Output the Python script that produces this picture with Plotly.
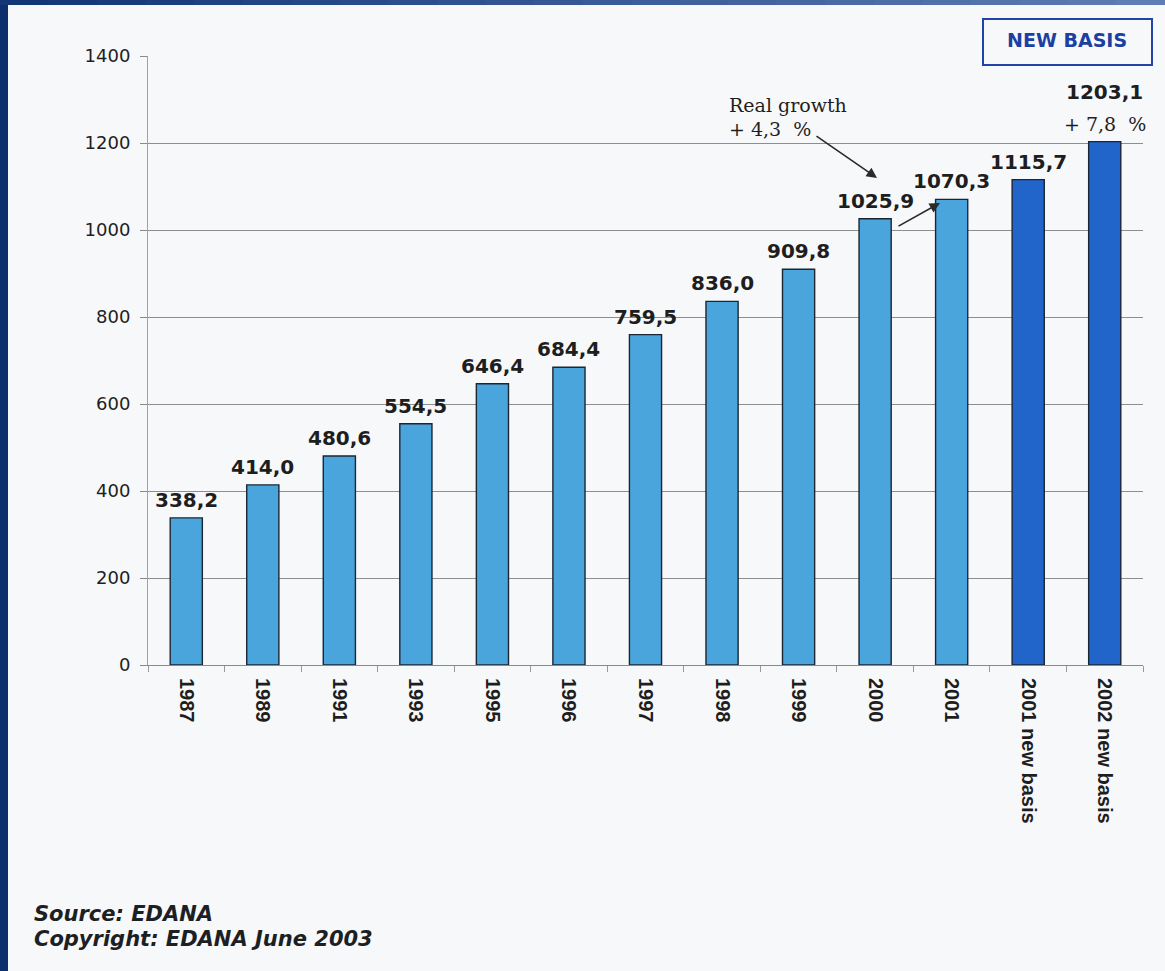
import plotly.graph_objects as go

# Market volume by year (values as printed on the bars)
years = ["1987", "1989", "1991", "1993", "1995", "1996", "1997", "1998",
         "1999", "2000", "2001", "2001 new basis", "2002 new basis"]
volumes = [338.2, 414.0, 480.6, 554.5, 646.4, 684.4, 759.5, 836.0,
           909.8, 1025.9, 1070.3, 1115.7, 1203.1]
new_basis = [False] * 11 + [True, True]
y_ticks = [0, 200, 400, 600, 800, 1000, 1200, 1400]

LIGHT = "#4aa5dc"
DARK = "#2164ca"
BG = "#f7f8fa"

# plot-area geometry in pixels (page is 1165 x 971)
W, H = 1165, 971
L, R, T, B = 148, 1143, 56, 665


def px(x):
    return (x - L) / (R - L)


def py(y):
    return (B - y) / (B - T)


def fmt(v):
    return f"{v:.1f}".replace(".", ",")


fig = go.Figure()
fig.add_trace(go.Bar(
    x=years, y=volumes,
    marker=dict(color=[DARK if nb else LIGHT for nb in new_basis],
                line=dict(color="#1b2633", width=1.4)),
    width=0.42, hoverinfo="skip",
))

annotations = []
last = len(volumes) - 1
for i, v in enumerate(volumes):
    # category axes take the bar's index as position
    annotations.append(dict(
        x=i, y=v, xref="x", yref="y", text=f"<b>{fmt(v)}</b>",
        showarrow=False, xanchor="center", yanchor="bottom",
        yshift=36 if i == last else 4,
        font=dict(family="DejaVu Sans", size=20, color="#1e1e1e"),
    ))


def note(x, y, text, font, xanchor="left"):
    return dict(x=px(x), y=py(y), xref="paper", yref="paper",
                xanchor=xanchor, yanchor="middle", text=text,
                showarrow=False, font=font)


serif = dict(family="DejaVu Serif", size=19, color="#1e1e1e")
italic = dict(family="DejaVu Sans", size=21, color="#1c1f24")
annotations += [
    note(727, 105, "Real growth", serif),
    note(727, 129, "+ 4,3  %", serif),
    dict(x=last, y=volumes[-1], xref="x", yref="y", xanchor="center",
         yanchor="bottom", yshift=5, text="+ 7,8  %", showarrow=False,
         font=serif),
    # arrow from the growth note down towards the 2000 -> 2001 step
    dict(x=px(877), y=py(178), ax=-62, ay=-43,
         xref="paper", yref="paper", axref="pixel", ayref="pixel",
         text="", showarrow=True, arrowhead=2, arrowsize=1.3,
         arrowwidth=1.6, arrowcolor="#2a2a2a"),
    dict(x=px(940), y=py(203), ax=-43, ay=24,
         xref="paper", yref="paper", axref="pixel", ayref="pixel",
         text="", showarrow=True, arrowhead=2, arrowsize=1.3,
         arrowwidth=1.6, arrowcolor="#2a2a2a"),
    note(1067, 40, "<b>NEW BASIS</b>",
         dict(family="DejaVu Sans", size=19, color="#1d3fa2"),
         xanchor="center"),
    note(32, 914, "<b><i>Source: EDANA</i></b>", italic),
    note(32, 939, "<b><i>Copyright: EDANA June 2003</i></b>", italic),
]

shapes = [
    # "NEW BASIS" frame
    dict(type="rect", xref="paper", yref="paper",
         x0=px(983), x1=px(1152), y0=py(65), y1=py(19),
         line=dict(color="#2244aa", width=2), fillcolor="rgba(0,0,0,0)"),
    # dark frame on the left edge
    dict(type="rect", xref="paper", yref="paper",
         x0=px(0), x1=px(8), y0=py(H), y1=py(0),
         line=dict(width=0), fillcolor="#0c2f6e", layer="above"),
]
# top strip shading from dark to lighter blue
n = 24
c0, c1 = (0x12, 0x36, 0x76), (0x5e, 0x7d, 0xb6)
for k in range(n):
    t = k / (n - 1)
    col = "#%02x%02x%02x" % tuple(int(a + (b - a) * t) for a, b in zip(c0, c1))
    shapes.append(dict(type="rect", xref="paper", yref="paper",
                       x0=px(W * k / n), x1=px(W * (k + 1) / n + 1),
                       y0=py(5), y1=py(0), line=dict(width=0),
                       fillcolor=col, layer="above"))

fig.update_layout(
    width=W, height=H,
    margin=dict(l=L, r=W - R, t=T, b=H - B),
    paper_bgcolor=BG, plot_bgcolor=BG,
    showlegend=False, bargap=0.55,
    annotations=annotations, shapes=shapes,
    xaxis=dict(
        type="category", range=[-0.5, len(years) - 0.5],
        tickangle=90, tickson="boundaries", ticks="outside", ticklen=6,
        tickcolor="#9a9a9a", showline=True, linecolor="#8a8a8a",
        showgrid=False, ticklabelstandoff=8,
        tickfont=dict(family="Liberation Sans", size=20, color="#1e1e1e",
                      weight="bold"),
    ),
    yaxis=dict(
        range=[0, 1400], tickvals=y_ticks, ticks="outside", ticklen=7,
        tickcolor="#8a8a8a", showgrid=True, gridcolor="#8e8e8e",
        gridwidth=1, showline=True, linecolor="#a0a0a0", zeroline=False,
        ticklabelstandoff=6,
        tickfont=dict(family="DejaVu Sans", size=18, color="#1e1e1e"),
    ),
)

fig.write_html("out.html")
